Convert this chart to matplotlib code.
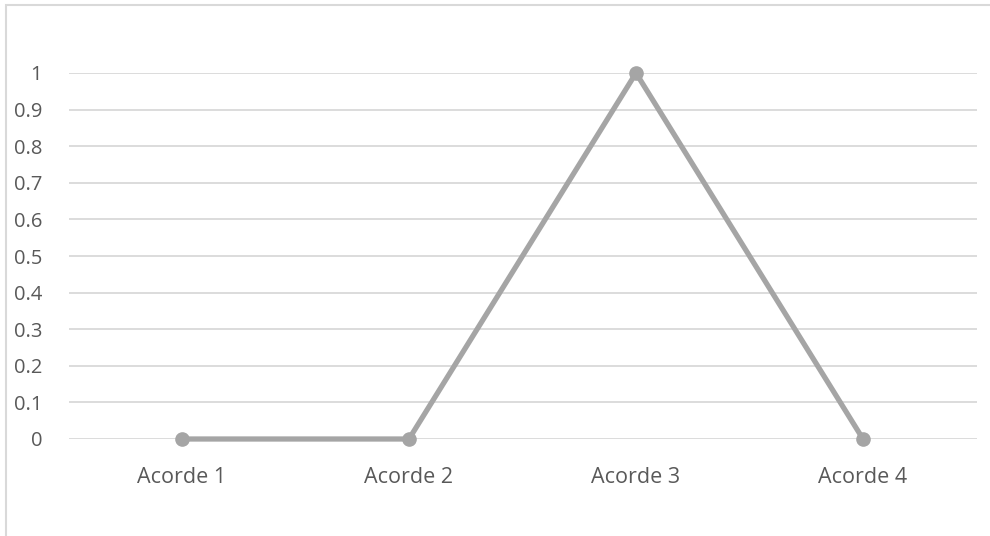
import matplotlib.pyplot as plt
from matplotlib.patches import Rectangle

categories = ['Acorde 1', 'Acorde 2', 'Acorde 3', 'Acorde 4']
values = [0, 0, 1, 0]
yticks = [0, 0.1, 0.2, 0.3, 0.4, 0.5, 0.6, 0.7, 0.8, 0.9, 1]
ytick_labels = ['0', '0.1', '0.2', '0.3', '0.4', '0.5', '0.6', '0.7', '0.8', '0.9', '1']

W, H = 990, 536
fig = plt.figure(figsize=(W / 100, H / 100), dpi=100)
fig.patch.set_facecolor('white')

# chart frame (left and top edges visible)
fig.patches.append(Rectangle((6 / W, -0.1), 1.2, (H - 5) / H + 0.1, transform=fig.transFigure,
                             fill=False, edgecolor='#D9D9D9', linewidth=1.5))

ax = fig.add_axes([68.5 / W, 1 - 439 / H, (976.5 - 68.5) / W, (439 - 73) / H])
x = range(len(categories))
ax.plot(x, values, color='#A5A5A5', linewidth=3.8, marker='o', markersize=9.5,
        solid_capstyle='round', zorder=3, clip_on=False)

ax.set_xlim(-0.5, len(categories) - 0.5)
ax.set_ylim(0, 1)
ax.set_yticks(yticks)
ax.set_yticklabels(ytick_labels)
ax.set_xticks(list(x))
ax.set_xticklabels(categories)

ax.grid(axis='y', color='#D9D9D9', linewidth=1.3)
ax.set_axisbelow(True)
for s in ['top', 'right', 'left', 'bottom']:
    ax.spines[s].set_visible(False)
ax.tick_params(length=0, labelcolor='#595959')
ax.tick_params(axis='y', pad=19, labelsize=14.5)
ax.tick_params(axis='x', pad=20, labelsize=15.5)
for lbl in ax.get_xticklabels() + ax.get_yticklabels():
    lbl.set_family(['Open Sans', 'DejaVu Sans'])

fig.savefig('out.png', dpi=100)
